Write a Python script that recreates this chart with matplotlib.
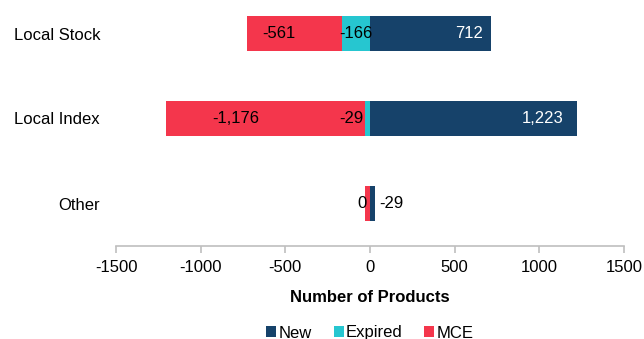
import matplotlib
matplotlib.use("Agg")
import matplotlib.pyplot as plt

categories = ["Local Stock", "Local Index", "Other"]
new = [712, 1223, 29]
expired = [-166, -29, 0]
mce = [-561, -1176, -29]

# label text and where it sits (x in data units) for each series
new_labels = ["712", "1,223", ""]
new_label_x = [585, 1017, 0]
expired_labels = ["-166", "-29", "0"]
expired_label_x = [-83, -112, -47]
mce_labels = ["-561", "-1,176", "-29"]
mce_label_x = [-540, -792, 124]

c_new = "#16426A"
c_exp = "#26C6D0"
c_mce = "#F4364C"

plt.rcParams["font.family"] = ["Liberation Sans", "DejaVu Sans"]
plt.rcParams["font.size"] = 12
plt.rcParams["axes.unicode_minus"] = False

fig = plt.figure(figsize=(6.44, 3.39), dpi=100)
ax = fig.add_axes([116 / 644, 93 / 339, 508 / 644, 246 / 339])

y = list(range(len(categories)))
h = 0.41
ax.barh(y, new, height=h, color=c_new, label="New")
ax.barh(y, expired, height=h, color=c_exp, label="Expired")
ax.barh(y, mce, height=h, left=expired, color=c_mce, label="MCE")

for i in y:
    if new_labels[i]:
        ax.text(new_label_x[i], i, new_labels[i], ha="center", va="center",
                color="white")
    ax.text(expired_label_x[i], i, expired_labels[i], ha="center", va="center",
            color="black")
    ax.text(mce_label_x[i], i, mce_labels[i], ha="center", va="center",
            color="black")

ax.set_xlim(-1500, 1500)
ax.set_xticks([-1500, -1000, -500, 0, 500, 1000, 1500])
ax.set_ylim(2.5, 2.5 - 246 / 85)
ax.set_yticks(y)
ax.set_yticklabels(categories)

for s in ["top", "right", "left"]:
    ax.spines[s].set_visible(False)
ax.spines["bottom"].set_color("#BFBFBF")
ax.spines["bottom"].set_linewidth(1.2)
ax.tick_params(axis="x", colors="#BFBFBF", labelcolor="black", length=5,
               width=1.2, pad=5)
ax.tick_params(axis="y", length=0, pad=11.5)

ax.set_xlabel("Number of Products", fontweight="bold", labelpad=11)

ax.legend(loc="center", bbox_to_anchor=(370 / 644, 6 / 339),
          bbox_transform=fig.transFigure, ncol=3, frameon=False,
          handlelength=0.6, handleheight=0.6, handletextpad=0.15,
          columnspacing=1.3)

fig.savefig("out.png", dpi=100)
